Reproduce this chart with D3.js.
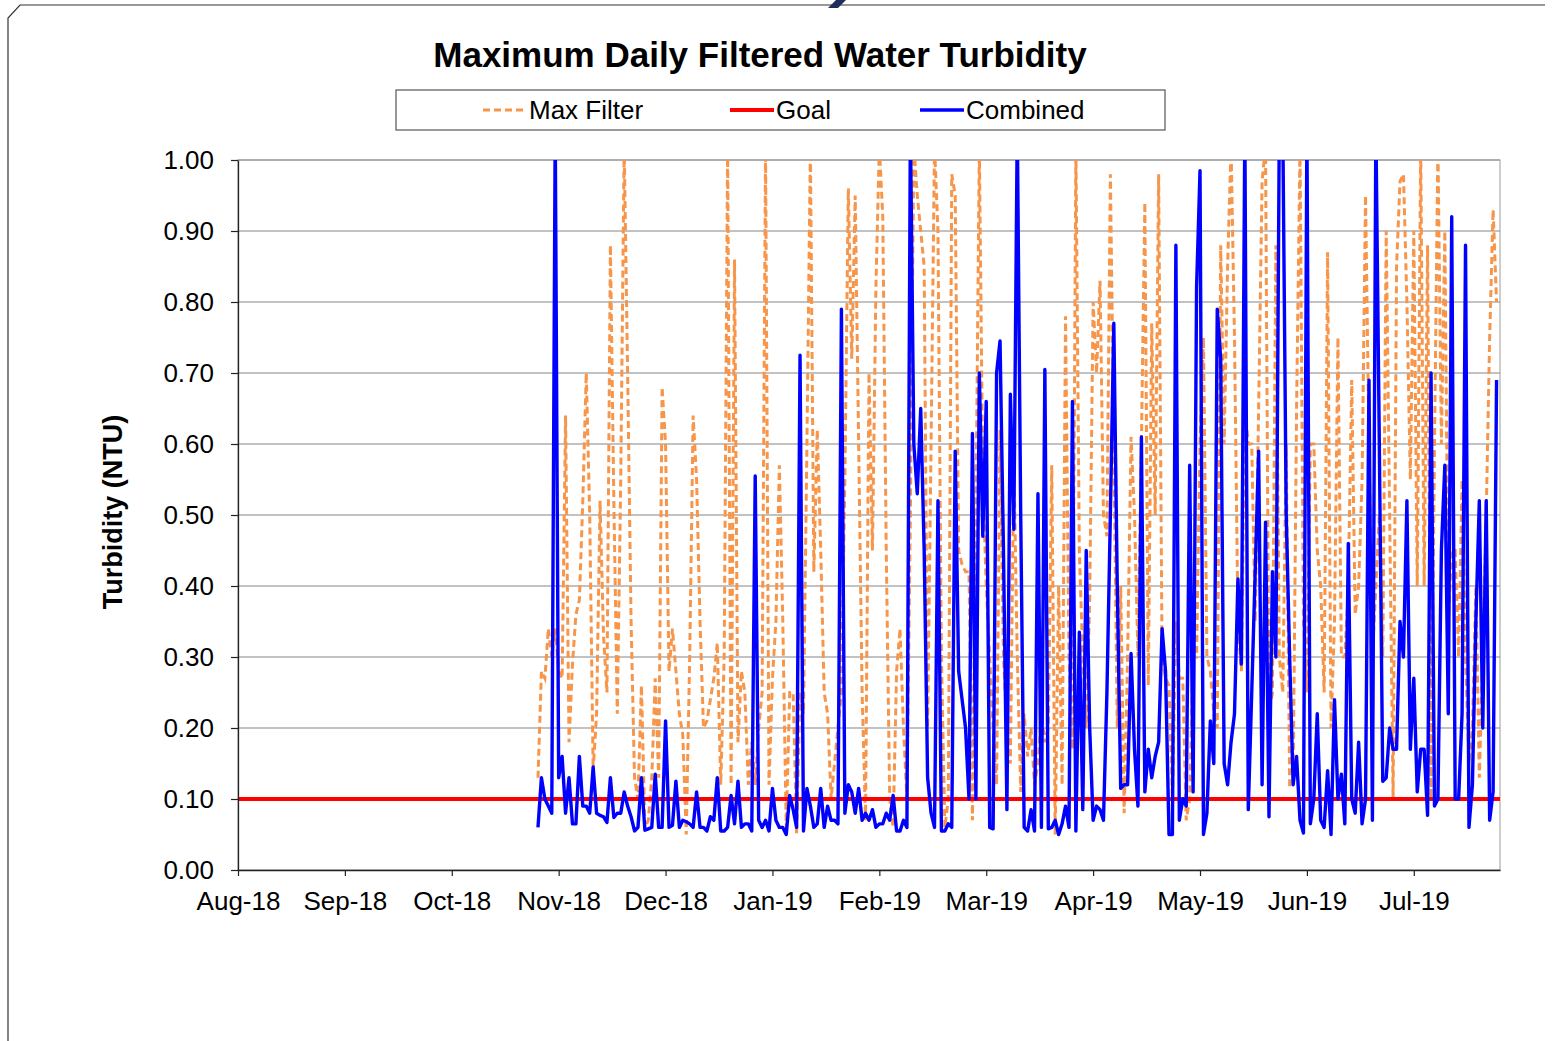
<!DOCTYPE html>
<html>
<head>
<meta charset="utf-8">
<script src="https://cdn.jsdelivr.net/npm/d3@7"></script>
<style>
    body { margin: 0; background: #fff; }
    svg text { font-family: Arial, "Liberation Sans", sans-serif; fill: #000; }
</style>
</head>
<body>
<div id="graf"></div>
<script>
// ---- Datos (un valor por día desde el 27-oct-2018)
const startDate = new Date(2018, 9, 27);

const maxFilter = [
    0.13, 0.28, 0.27, 0.34, 0.30, 0.34, 0.28, 0.27, 0.64, 0.18, 0.29, 0.36, 0.38, 0.52, 0.70, 0.50, 0.14, 0.22, 0.52, 0.33, 0.25, 0.88, 0.52, 0.22,
    0.55, 1.02, 0.70, 0.35, 0.13, 0.10, 0.26, 0.06, 0.07, 0.13, 0.27, 0.13, 0.68, 0.60, 0.28, 0.34, 0.28, 0.22, 0.19, 0.05, 0.30, 0.64, 0.55, 0.35, 0.20,
    0.21, 0.24, 0.27, 0.32, 0.12, 0.30, 1.02, 0.12, 0.86, 0.18, 0.28, 0.25, 0.12, 0.18, 0.12, 0.20, 0.25, 1.02, 0.12, 0.27, 0.35, 0.57, 0.35, 0.06, 0.25, 0.25,
    0.05, 0.25, 0.22, 0.60, 1.02, 0.42, 0.62, 0.45, 0.25, 0.22, 0.10, 0.15, 0.20, 0.25, 0.55, 0.96, 0.72, 0.95, 0.60, 0.25, 0.07, 0.70, 0.45, 0.82, 1.02,
    0.92, 0.45, 0.10, 0.06, 0.28, 0.34, 0.20, 0.10, 0.50, 1.02, 0.95, 0.90, 0.85, 0.20, 0.60, 1.02, 0.90, 0.30, 0.06, 0.10, 0.98, 0.95, 0.45, 0.43, 0.42,
    0.42,
    0.07, 0.50, 1.02, 0.55, 0.40, 0.30, 0.20, 0.12, 0.62, 0.30, 0.20, 0.15, 0.58, 0.30, 0.11, 0.22, 0.16, 0.20, 0.12, 0.15, 0.22, 0.18, 0.20, 0.57, 0.05,
    0.40, 0.12, 0.78, 0.30, 0.17, 1.02, 0.45, 0.30, 0.20, 0.38, 0.80, 0.70, 0.83, 0.50, 0.47, 0.98, 0.60, 0.20, 0.40, 0.08, 0.30, 0.61, 0.50, 0.30, 0.60,
    0.94, 0.26, 0.77, 0.50, 0.98, 0.30, 0.27, 0.26, 0.10, 0.35, 0.27, 0.27, 0.07, 0.10, 0.30, 0.30, 0.60, 0.75, 0.30, 0.28, 0.22, 0.20, 0.88, 0.60, 0.85, 1.02,
    0.75, 0.35, 0.28, 0.65, 0.60, 0.60, 0.35, 0.65, 0.97, 1.02, 0.22, 0.25, 0.88, 0.30, 0.25, 0.60, 0.12, 0.12, 0.65, 1.02, 0.35, 0.25, 0.60, 0.60, 0.45, 0.40,
    0.25, 0.87, 0.20, 0.35, 0.75, 0.30, 0.30, 0.40, 0.69, 0.36, 0.40, 0.55, 0.95, 0.60, 0.30, 0.40, 0.50, 0.30, 0.90, 0.50, 0.10, 0.85, 0.97, 0.98, 0.80,
    0.55, 0.90, 0.40, 1.02, 0.40, 0.88, 0.10, 0.60, 1.02, 0.60, 0.90, 0.35, 0.45, 0.45, 0.30, 0.55, 0.30, 0.15, 0.20, 0.40, 0.13, 0.30, 0.50, 0.75, 0.93, 0.80,
];

const combined = [
    0.06, 0.13, 0.10, 0.09, 0.08, 1.05, 0.13, 0.16, 0.08, 0.13, 0.065, 0.065, 0.16, 0.09, 0.09, 0.08, 0.145, 0.08, 0.077, 0.075, 0.067, 0.13, 0.074, 0.08,
    0.08, 0.11, 0.09, 0.075, 0.055, 0.06, 0.13, 0.056, 0.058, 0.06, 0.135, 0.06, 0.06, 0.21, 0.06, 0.063, 0.125, 0.06, 0.07, 0.068, 0.065, 0.06, 0.11, 0.06, 0.06,
    0.055, 0.075, 0.07, 0.13, 0.055, 0.055, 0.06, 0.105, 0.065, 0.125, 0.06, 0.065, 0.065, 0.055, 0.555, 0.07, 0.06, 0.07, 0.055, 0.115, 0.07, 0.06, 0.06, 0.05, 0.105, 0.085,
    0.06, 0.725, 0.055, 0.115, 0.09, 0.06, 0.065, 0.115, 0.06, 0.09, 0.07, 0.07, 0.065, 0.79, 0.08, 0.12, 0.11, 0.08, 0.115, 0.07, 0.08, 0.07, 0.085, 0.06, 0.065,
    0.065, 0.08, 0.07, 0.105, 0.055, 0.055, 0.07, 0.06, 1.05, 0.60, 0.53, 0.65, 0.45, 0.13, 0.08, 0.06, 0.52, 0.055, 0.055, 0.065, 0.06, 0.59, 0.28, 0.24, 0.20,
    0.10,
    0.615, 0.10, 0.70, 0.47, 0.66, 0.06, 0.058, 0.70, 0.745, 0.45, 0.085, 0.67, 0.48, 1.05, 0.50, 0.06, 0.055, 0.085, 0.055, 0.53, 0.06, 0.705, 0.058, 0.06, 0.07,
    0.05, 0.065, 0.09, 0.06, 0.66, 0.055, 0.335, 0.085, 0.45, 0.20, 0.07, 0.09, 0.085, 0.07, 0.25, 0.50, 0.77, 0.40, 0.115, 0.12, 0.12, 0.305, 0.17, 0.09, 0.61,
    0.11, 0.17, 0.13, 0.16, 0.18, 0.34, 0.28, 0.05, 0.05, 0.88, 0.07, 0.10, 0.09, 0.57, 0.11, 0.82, 0.985, 0.05, 0.08, 0.21, 0.15, 0.79, 0.72, 0.15, 0.12, 0.18,
    0.22, 0.41, 0.29, 1.05, 0.085, 0.25, 0.42, 0.59, 0.12, 0.49, 0.075, 0.42, 0.30, 1.05, 1.05, 0.50, 0.30, 0.12, 0.16, 0.07, 0.052, 1.05, 0.065, 0.10, 0.22, 0.07,
    0.06, 0.14, 0.05, 0.24, 0.10, 0.135, 0.065, 0.46, 0.10, 0.08, 0.18, 0.065, 0.10, 0.69, 0.07, 1.05, 0.60, 0.125, 0.13, 0.20, 0.17, 0.17, 0.35, 0.30, 0.52,
    0.17, 0.27, 0.11, 0.17, 0.17, 0.077, 0.70, 0.09, 0.10, 0.45, 0.57, 0.22, 0.92, 0.10, 0.10, 0.22, 0.88, 0.06, 0.12, 0.35, 0.52, 0.20, 0.52, 0.07, 0.11, 0.69,
];

const goal = 0.10;
const yTicks = [0, 0.1, 0.2, 0.3, 0.4, 0.5, 0.6, 0.7, 0.8, 0.9, 1.0];
const xStart = new Date(2018, 7, 1);
const xEnd = new Date(2019, 7, 2);
const xTickCount = 12;       // ticks every 31 days
const seriesNames = ["Max Filter", "Goal", "Combined"];
const seriesColors = ["#f7964a", "#ff0000", "#0000ff"];

// ---- Dimensiones
const anchoTotal = 1556;
const altoTotal = 1041;
const margins = { top: 160, right: 56, bottom: 171, left: 238 };
const ancho = anchoTotal - margins.left - margins.right;
const alto = altoTotal - margins.top - margins.bottom;

const svg = d3.select("#graf")
    .append("svg")
    .attr("width", anchoTotal)
    .attr("height", altoTotal);

svg.append("rect").attr("width", anchoTotal).attr("height", altoTotal).attr("fill", "white");

// marco de la diapositiva
svg.append("path")
    .attr("d", "M8,1041V18L20,5H1545")
    .attr("fill", "none")
    .attr("stroke", "#333")
    .attr("stroke-width", 1.2);
svg.append("path")
    .attr("d", "M836,0L846,0L838,8L828,8Z")
    .attr("fill", "#1f2f5c");

const g = svg.append("g").attr("transform", `translate(${margins.left}, ${margins.top})`);

// ---- Escaladores
const x = d3.scaleTime().domain([xStart, xEnd]).range([0, ancho]);
const y = d3.scaleLinear().domain([0, 1]).range([alto, 0]);

const toPoints = (arr) => arr.map((v, i) => ({ date: d3.timeDay.offset(startDate, i), value: v }));
const maxData = toPoints(maxFilter);
const combData = toPoints(combined);

// rejilla
g.append("g")
    .selectAll("line")
    .data(yTicks.filter((d) => d > 0))
    .join("line")
    .attr("x1", 0)
    .attr("x2", ancho)
    .attr("y1", (d) => y(d))
    .attr("y2", (d) => y(d))
    .attr("stroke", "#858585")
    .attr("stroke-width", 1);

// borde del área de trazado
g.append("rect")
    .attr("width", ancho)
    .attr("height", alto)
    .attr("fill", "none")
    .attr("stroke", "#9a9a9a")
    .attr("stroke-width", 1);

// recorte para valores > 1
svg.append("defs").append("clipPath").attr("id", "clip")
    .append("rect").attr("x", 0).attr("y", 0).attr("width", ancho).attr("height", alto);

const line = d3.line().x((d) => x(d.date)).y((d) => y(d.value));
const plot = g.append("g").attr("clip-path", "url(#clip)");

plot.append("path")
    .datum(maxData)
    .attr("d", line)
    .attr("fill", "none")
    .attr("stroke", seriesColors[0])
    .attr("stroke-width", 3)
    .attr("stroke-dasharray", "7,4");

plot.append("line")
    .attr("x1", 0)
    .attr("x2", ancho)
    .attr("y1", y(goal))
    .attr("y2", y(goal))
    .attr("stroke", seriesColors[1])
    .attr("stroke-width", 4);

plot.append("path")
    .datum(combData)
    .attr("d", line)
    .attr("fill", "none")
    .attr("stroke", seriesColors[2])
    .attr("stroke-width", 3.4)
    .attr("stroke-linejoin", "round");

// ---- Ejes
const xTicks = d3.range(xTickCount).map((i) => d3.timeDay.offset(xStart, 31 * i));
const xAxis = d3.axisBottom(x).tickValues(xTicks).tickFormat(d3.timeFormat("%b-%y")).tickSizeInner(6).tickSizeOuter(0).tickPadding(16);
const yAxis = d3.axisLeft(y).tickValues(yTicks).tickFormat(d3.format(".2f")).tickSizeInner(7).tickSizeOuter(0).tickPadding(17);

const xAxisGroup = g.append("g").attr("transform", `translate(0, ${alto})`).call(xAxis);
const yAxisGroup = g.append("g").call(yAxis);

[xAxisGroup, yAxisGroup].forEach((ax) => {
    ax.select(".domain").attr("stroke", "#222").attr("stroke-width", 1.3);
    ax.selectAll(".tick line").attr("stroke", "#222").attr("stroke-width", 1.2);
    ax.selectAll("text").attr("font-size", 26).attr("font-family", "Arial, 'Liberation Sans', sans-serif").attr("fill", "#000");
});

// Titulo de eje Y
svg.append("text")
    .attr("transform", "translate(122, 512) rotate(-90)")
    .attr("text-anchor", "middle")
    .attr("font-size", 27)
    .attr("font-weight", "bold")
    .text("Turbidity (NTU)");

// Titulo
svg.append("text")
    .attr("x", 760)
    .attr("y", 67)
    .attr("text-anchor", "middle")
    .attr("font-size", 35)
    .attr("font-weight", "bold")
    .text("Maximum Daily Filtered Water Turbidity");

// ---- Leyenda
const legend = svg.append("g");
legend.append("rect")
    .attr("x", 396)
    .attr("y", 90)
    .attr("width", 769)
    .attr("height", 40)
    .attr("fill", "white")
    .attr("stroke", "#555")
    .attr("stroke-width", 1.2);

const legendX = [483, 730, 920];
const legendItems = legend.selectAll("g.item")
    .data(seriesNames)
    .join("g")
    .attr("class", "item")
    .attr("transform", (d, i) => `translate(${legendX[i]}, 110)`);

legendItems.append("line")
    .attr("x1", 0)
    .attr("x2", 44)
    .attr("stroke", (d, i) => seriesColors[i])
    .attr("stroke-width", (d, i) => (i === 0 ? 3 : i === 1 ? 4 : 3.4))
    .attr("stroke-dasharray", (d, i) => (i === 0 ? "7,4" : null));

legendItems.append("text")
    .attr("x", 46)
    .attr("dy", "0.35em")
    .attr("font-size", 26)
    .text((d) => d);
</script>
</body>
</html>
